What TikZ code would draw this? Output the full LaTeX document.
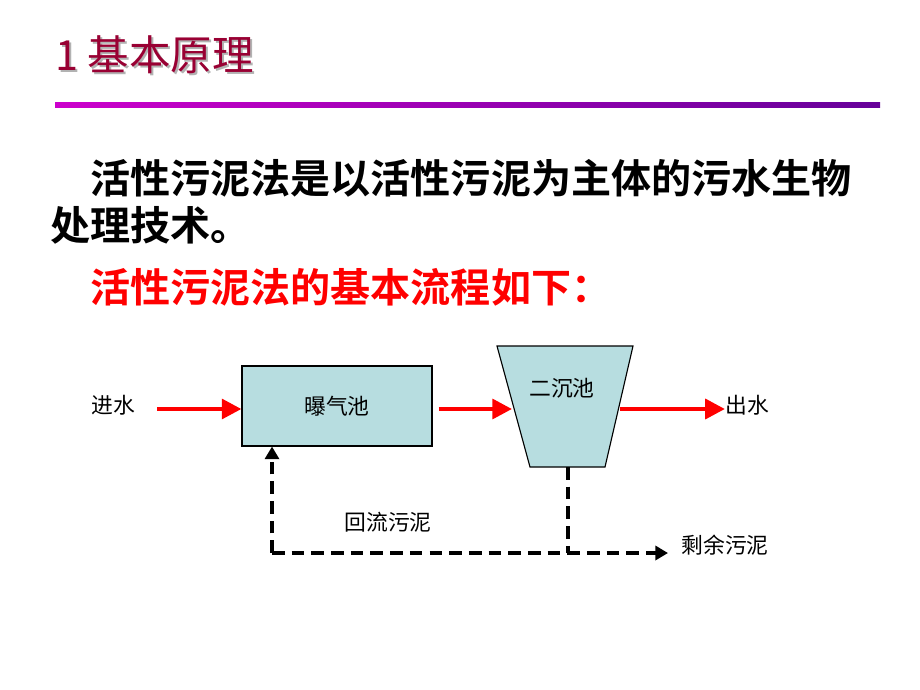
\documentclass[tikz,border=0pt]{standalone}
\usepackage{fontspec}
\newfontfamily\cjk{Noto Sans CJK SC}
\newfontfamily\cjkbold{Noto Sans CJK SC Bold}
\usetikzlibrary{positioning,arrows.meta,calc}
\definecolor{titlered}{RGB}{153,0,51}
\definecolor{tankblue}{RGB}{183,221,224}
\definecolor{flowred}{RGB}{255,0,0}
\definecolor{linemag}{RGB}{204,0,204}
\definecolor{linepurple}{RGB}{102,0,153}
\begin{document}
\begin{tikzpicture}[x=0.025cm, y=-0.025cm,
    tank/.style={draw=black, fill=tankblue, line width=0.8pt},
    flow/.style={draw=flowred, line width=3pt, -{Triangle[length=14pt,width=14pt]}},
    sludge/.style={draw=black, line width=2.2pt, dash pattern=on 9pt off 5pt},
    tag/.style={font=\cjk\fontsize{15.5}{18}\selectfont, inner sep=0pt},
    bodytext/.style={font=\cjkbold\fontsize{28.5}{32}\selectfont, inner sep=0pt, anchor=west}
]
\useasboundingbox (0,0) rectangle (920,690);

% Title
\node[font=\cjk\fontsize{29.5}{32}\selectfont, text=gray!60, anchor=west, inner sep=0pt] at (57,57) {1 基本原理};
\node[font=\cjk\fontsize{29.5}{32}\selectfont, text=titlered, anchor=west, inner sep=0pt] (title) at (55,55) {1 基本原理};
\shade[left color=linemag, right color=linepurple] (55,102) rectangle (880,107);

% Text
\node[bodytext] (line1) at (90,178) {活性污泥法是以活性污泥为主体的污水生物};
\node[bodytext] (line2) at (50,225) {处理技术。};
\node[bodytext, text=flowred] (line3) at (90,287) {活性污泥法的基本流程如下：};

% Tanks
\node[tank, minimum width=190*0.025cm, minimum height=80*0.025cm, tag] (aer) at (337,406) {曝气池};
\draw[tank] (497,346) coordinate (stl) -- (633,346) -- (605,467) coordinate (sbr) -- (530,467) -- cycle;
\node[tag] (sec) at (562,388) {二沉池};
\coordinate (secin) at (512,409);
\coordinate (secout) at (620,409);
\coordinate (secbot) at (568,467);

% Labels
\node[tag] (inw) at (113,405) {进水};
\node[tag] (outw) at (747,405) {出水};
\node[tag] (ret) at (388,522) {回流污泥};
\node[tag] (waste) at (725,545) {剩余污泥};

% Flows
\coordinate (instart) at (157,409);
\draw[flow] (instart) -- (aer.west |- instart);
\draw[flow] (aer.east |- instart) ++(6,0) -- (secin);
\draw[flow] (secout) -- (outw.west |- secout);

% Sludge
\coordinate (ret1) at (568,553);
\coordinate (ret2) at (272,553);
\coordinate (wend) at (668,553);
\draw[sludge] (secbot) -- (ret1);
\draw[sludge, -{Triangle[length=9pt,width=10pt]}] (ret2) -- (ret2 |- aer.south);
\draw[sludge, -{Triangle[length=9pt,width=10pt]}] (ret2) -- (wend);
\end{tikzpicture}
\end{document}
